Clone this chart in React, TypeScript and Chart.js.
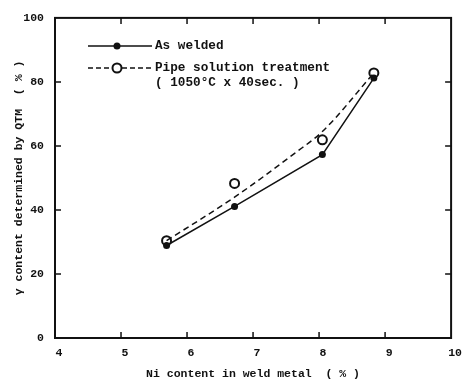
import React, { useEffect, useRef } from "react";
import { Chart, registerables } from "chart.js";

Chart.register(...registerables);

const asWeldedNi = [5.69, 6.72, 8.05, 8.83];
const asWeldedGamma = [28.9, 41.1, 57.3, 81.2];
const pipeNi = [5.69, 6.72, 8.05, 8.83];
const pipeGamma = [30.4, 48.3, 61.9, 82.8];
const pipeCurveNi = [5.69, 6.72, 7.63, 8.05, 8.83];
const pipeCurveGamma = [30.4, 44.0, 57.7, 64.5, 82.8];
const xTicks = [4, 5, 6, 7, 8, 9, 10];
const yTicks = [0, 20, 40, 60, 80, 100];
const legendLabels = ["As welded", "Pipe solution treatment", "( 1050°C x 40sec. )"];
const xTitle = "Ni content in weld metal  ( % )";
const yTitle = "γ content determined by QTM  ( % )";

const INK = "#111";
const MONO = "'Liberation Mono', 'DejaVu Sans Mono', monospace";

const framePlugin = {
  id: "frameTicks",
  afterDraw(chart: any) {
    const { ctx, chartArea: a, scales } = chart;
    const xs = scales.x;
    const ys = scales.y;
    ctx.save();
    ctx.strokeStyle = INK;
    ctx.lineWidth = 2;
    ctx.strokeRect(a.left, a.top, a.right - a.left, a.bottom - a.top);
    ctx.lineWidth = 1.5;
    const L = 6;
    xTicks.slice(1, -1).forEach((v) => {
      const px = xs.getPixelForValue(v);
      ctx.beginPath();
      ctx.moveTo(px, a.bottom);
      ctx.lineTo(px, a.bottom - L);
      ctx.moveTo(px, a.top);
      ctx.lineTo(px, a.top + L);
      ctx.stroke();
    });
    yTicks.slice(1, -1).forEach((v) => {
      const py = ys.getPixelForValue(v);
      ctx.beginPath();
      ctx.moveTo(a.left, py);
      ctx.lineTo(a.left + L, py);
      ctx.moveTo(a.right, py);
      ctx.lineTo(a.right - L, py);
      ctx.stroke();
    });

    // legend
    const lx0 = 88, lx1 = 152, dotX = 117;
    const y1 = 46, y2 = 68, y3 = 83;
    ctx.lineWidth = 1.5;
    ctx.setLineDash([]);
    ctx.beginPath();
    ctx.moveTo(lx0, y1);
    ctx.lineTo(lx1, y1);
    ctx.stroke();
    ctx.fillStyle = INK;
    ctx.beginPath();
    ctx.arc(dotX, y1, 3.5, 0, Math.PI * 2);
    ctx.fill();
    ctx.setLineDash([5, 3]);
    ctx.beginPath();
    ctx.moveTo(lx0, y2);
    ctx.lineTo(dotX - 5, y2);
    ctx.moveTo(dotX + 5, y2);
    ctx.lineTo(lx1, y2);
    ctx.stroke();
    ctx.setLineDash([]);
    ctx.lineWidth = 2;
    ctx.fillStyle = "#fff";
    ctx.beginPath();
    ctx.arc(dotX, y2, 4.5, 0, Math.PI * 2);
    ctx.fill();
    ctx.stroke();
    ctx.fillStyle = INK;
    ctx.font = `bold 12.7px ${MONO}`;
    ctx.textAlign = "left";
    ctx.textBaseline = "middle";
    ctx.fillText(legendLabels[0], 155, y1);
    ctx.fillText(legendLabels[1], 155, y2);
    ctx.fillText(legendLabels[2], 155, y3);
    ctx.restore();
  },
};

export default function App() {
  const ref = useRef<HTMLCanvasElement>(null);
  useEffect(() => {
    document.body.style.margin = "0";
    const canvas = ref.current!;
    const chart = new Chart(canvas, {
      type: "scatter",
      data: {
        datasets: [
          {
            label: "Pipe solution treatment (curve)",
            data: pipeCurveNi.map((x, i) => ({ x, y: pipeCurveGamma[i] })),
            showLine: true,
            borderColor: INK,
            borderWidth: 1.5,
            borderDash: [6, 4],
            pointRadius: 0,
            tension: 0.3,
            cubicInterpolationMode: "monotone",
          },
          {
            label: "As welded",
            data: asWeldedNi.map((x, i) => ({ x, y: asWeldedGamma[i] })),
            showLine: true,
            borderColor: INK,
            borderWidth: 1.5,
            pointRadius: 3.5,
            pointBackgroundColor: INK,
            pointBorderColor: INK,
            pointBorderWidth: 0,
            tension: 0,
          },
          {
            label: "Pipe solution treatment",
            data: pipeNi.map((x, i) => ({ x, y: pipeGamma[i] })),
            showLine: false,
            pointRadius: 4.5,
            pointBackgroundColor: "#fff",
            pointBorderColor: INK,
            pointBorderWidth: 2,
          },
        ],
      },
      options: {
        responsive: false,
        animation: false,
        layout: { padding: { top: 13, right: 12, left: 0, bottom: 0 } },
        plugins: { legend: { display: false }, tooltip: { enabled: false } },
        scales: {
          x: {
            type: "linear",
            min: 4,
            max: 10,
            afterBuildTicks: (s: any) => {
              s.ticks = xTicks.map((v) => ({ value: v }));
            },
            afterFit: (s: any) => {
              s.height = 47;
            },
            grid: { display: false, drawTicks: false },
            border: { display: false },
            ticks: {
              color: INK,
              font: { family: MONO, size: 11.5, weight: "bold" },
              padding: 8,
              labelOffset: 4,
              maxRotation: 0,
              autoSkip: false,
            },
            title: {
              display: true,
              text: xTitle,
              color: INK,
              font: { family: MONO, size: 11.5, weight: "bold" },
              padding: { top: 0, bottom: 4 },
            },
          },
          y: {
            type: "linear",
            min: 0,
            max: 100,
            afterBuildTicks: (s: any) => {
              s.ticks = yTicks.map((v) => ({ value: v }));
            },
            afterFit: (s: any) => {
              s.width = 55;
            },
            grid: { display: false, drawTicks: false },
            border: { display: false },
            ticks: {
              color: INK,
              font: { family: MONO, size: 11.5, weight: "bold" },
              padding: 11,
              autoSkip: false,
            },
            title: {
              display: true,
              text: yTitle,
              color: INK,
              font: { family: MONO, size: 11.5, weight: "bold" },
              padding: { top: 12, bottom: 0 },
            },
          },
        },
      },
      plugins: [framePlugin],
    });
    return () => chart.destroy();
  }, []);
  return <canvas ref={ref} width={466} height={385} style={{ display: "block" }} />;
}
